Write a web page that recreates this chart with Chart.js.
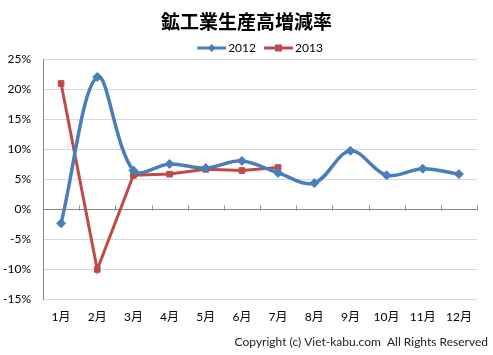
<!DOCTYPE html>
<html>
<head>
<meta charset="utf-8">
<script src="https://cdn.jsdelivr.net/npm/chart.js@4"></script>
<style>
html,body{margin:0;padding:0;background:#fff;}
#wrap{width:493px;height:355px;position:relative;}
</style>
</head>
<body>
<div id="wrap"><canvas id="c" width="493" height="355"></canvas></div>
<script>
const categories = ['1月','2月','3月','4月','5月','6月','7月','8月','9月','10月','11月','12月'];
const series2012 = [-2.3, 22.1, 6.5, 7.6, 6.9, 8.1, 6.1, 4.4, 9.8, 5.7, 6.8, 5.9];
const series2013 = [21.0, -10.0, 5.7, 5.9, 6.7, 6.5, 7.0];
const yTicks = [-15, -10, -5, 0, 5, 10, 15, 20, 25];
const seriesNames = ['2012', '2013'];
const titleText = '鉱工業生産高増減率';
const copyrightText = 'Copyright (c) Viet-kabu.com  All Rights Reserved';

const BLUE = '#4A7EBB';
const RED = '#BE4B48';

const decorations = {
  id: 'decorations',
  beforeDatasetsDraw(chart){
    const x = chart.scales.x, y = chart.scales.y;
    const ctx = chart.ctx;
    const y0 = Math.round(y.getPixelForValue(0)) + 0.5;
    ctx.save();
    ctx.strokeStyle = '#868686'; ctx.lineWidth = 1;
    ctx.beginPath();
    for (let i = 0; i <= categories.length; i++){
      const px = Math.round(x.getPixelForValue(i - 0.5)) + 0.5;
      ctx.moveTo(px, y0); ctx.lineTo(px, y0 - 5);
    }
    ctx.stroke();
    ctx.restore();
  },
  afterDraw(chart){
    const ctx = chart.ctx;
    const area = chart.chartArea;
    ctx.save();
    // title
    ctx.font = 'bold 19px "Noto Sans CJK JP", sans-serif';
    ctx.fillStyle = '#000';
    ctx.textAlign = 'center';
    ctx.textBaseline = 'middle';
    ctx.fillText(titleText, chart.width / 2, 22);
    // legend
    ctx.font = '12px Lato, sans-serif';
    const lineLen = 29, gap = 2, itemGap = 8;
    const widths = seriesNames.map(n => ctx.measureText(n).width);
    let total = 0;
    widths.forEach((w, i) => { total += lineLen + gap + w + (i < widths.length - 1 ? itemGap : 0); });
    let cx = (area.left + area.right) / 2 - total / 2;
    const ly = 48;
    seriesNames.forEach((n, i) => {
      const col = chart.data.datasets[i].borderColor;
      ctx.strokeStyle = col; ctx.fillStyle = col; ctx.lineWidth = 3;
      ctx.beginPath(); ctx.moveTo(cx, ly); ctx.lineTo(cx + lineLen, ly); ctx.stroke();
      const mx = cx + lineLen / 2;
      if (i === 0){
        ctx.beginPath(); ctx.moveTo(mx, ly - 4); ctx.lineTo(mx + 4, ly); ctx.lineTo(mx, ly + 4); ctx.lineTo(mx - 4, ly); ctx.closePath(); ctx.fill();
      } else {
        ctx.fillRect(mx - 3.5, ly - 3.5, 7, 7);
      }
      ctx.fillStyle = '#000';
      ctx.textAlign = 'left';
      ctx.fillText(n, cx + lineLen + gap, ly + 0.5);
      cx += lineLen + gap + widths[i] + itemGap;
    });
    // copyright
    ctx.font = '12px Lato, "Noto Sans", sans-serif';
    ctx.fillStyle = '#222';
    ctx.textAlign = 'right';
    ctx.fillText(copyrightText, 488, 342);
    ctx.restore();
  }
};

new Chart(document.getElementById('c'), {
  type: 'line',
  data: {
    labels: categories,
    datasets: [
      {
        label: seriesNames[0], data: series2012,
        borderColor: BLUE, backgroundColor: BLUE, borderWidth: 3.5,
        pointStyle: 'rectRot', pointRadius: 4.5, pointHoverRadius: 4.5,
        pointBackgroundColor: BLUE, pointBorderColor: BLUE, pointBorderWidth: 1,
        tension: 0.35, fill: false
      },
      {
        label: seriesNames[1], data: series2013,
        borderColor: RED, backgroundColor: RED, borderWidth: 3,
        pointStyle: 'rect', pointRadius: 4, pointHoverRadius: 4,
        pointBackgroundColor: RED, pointBorderColor: RED, pointBorderWidth: 1,
        tension: 0, fill: false
      }
    ]
  },
  options: {
    responsive: false,
    animation: false,
    events: [],
    layout: { padding: { left: 0, right: 16, top: 59.5, bottom: 0 } },
    plugins: {
      title: { display: false },
      legend: { display: false },
      tooltip: { enabled: false }
    },
    scales: {
      x: {
        offset: true,
        grid: { display: false, drawTicks: false },
        border: { display: false },
        ticks: { color: '#000', padding: 10, font: { family: 'Lato, "Noto Sans CJK JP", sans-serif', size: 12 } },
        afterFit(s){ s.height = 55.5; }
      },
      y: {
        min: -15, max: 25,
        afterBuildTicks(s){ s.ticks = yTicks.map(v => ({ value: v })); },
        grid: {
          drawTicks: false,
          color: ctx => (ctx.tick && ctx.tick.value === 0) ? '#868686' : '#D9D9D9',
          lineWidth: 1
        },
        border: { display: true, color: '#868686', width: 1 },
        ticks: {
          color: '#000', padding: 12,
          font: { family: 'Lato, sans-serif', size: 12 },
          callback: v => v + '%'
        },
        afterFit(s){ s.width = 43; }
      }
    }
  },
  plugins: [decorations]
});
</script>
</body>
</html>
